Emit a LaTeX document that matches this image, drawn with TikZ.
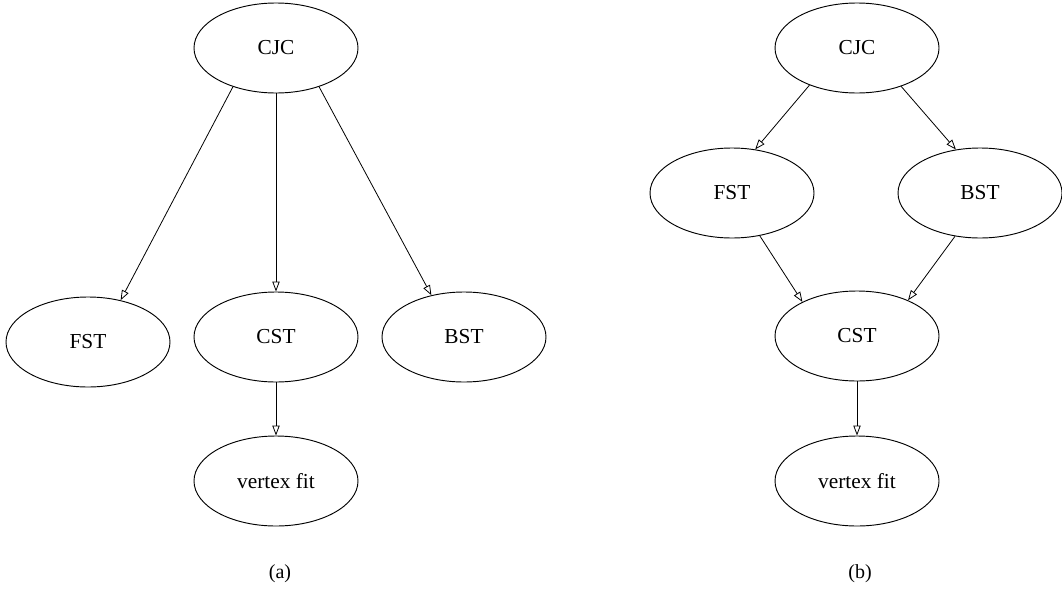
\documentclass[tikz,border=0pt]{standalone}
\usepackage{fontspec}
\setmainfont{Liberation Serif}
\usetikzlibrary{shapes.geometric,arrows.meta}
\begin{document}
\begin{tikzpicture}[x=0.75pt,y=-0.75pt,
  ell/.style={draw,ellipse,line width=0.7pt,minimum width=123pt,minimum height=67.5pt,inner sep=0pt,font=\fontsize{16}{19}\selectfont},
  lab/.style={font=\fontsize{15}{18}\selectfont},
  edge/.style={line width=0.6pt,-{Triangle[open,length=7.5pt,width=5.5pt]}}]
\useasboundingbox (0,0) rectangle (1062,589);
% (a)
\node[ell] (acjc) at (276,48) {CJC};
\node[ell] (afst) at (88,342) {FST};
\node[ell] (acst) at (276,337) {CST};
\node[ell] (abst) at (464,337) {BST};
\node[ell] (avf) at (276,481) {vertex fit};
\node[lab] (la) at (280,574) {(a)};
\draw[edge] (acjc.222) -- (afst.52);
\draw[edge] (acjc.south) -- (acst.north);
\draw[edge] (acjc.318) -- (abst.128);
\draw[edge] (acst.south) -- (avf.north);
% (b)
\node[ell] (bcjc) at (857,48) {CJC};
\node[ell] (bfst) at (732,193) {FST};
\node[ell] (bbst) at (980,193) {BST};
\node[ell] (bcst) at (857,336) {CST};
\node[ell] (bvf) at (857,481) {vertex fit};
\node[lab] (lb) at (860,574) {(b)};
\draw[edge] (bcjc.218) -- (bfst.62);
\draw[edge] (bcjc.319) -- (bbst.119);
\draw[edge] (bfst.303) -- (bcst.148);
\draw[edge] (bbst.240) -- (bcst.35);
\draw[edge] (bcst.south) -- (bvf.north);
\end{tikzpicture}
\end{document}
